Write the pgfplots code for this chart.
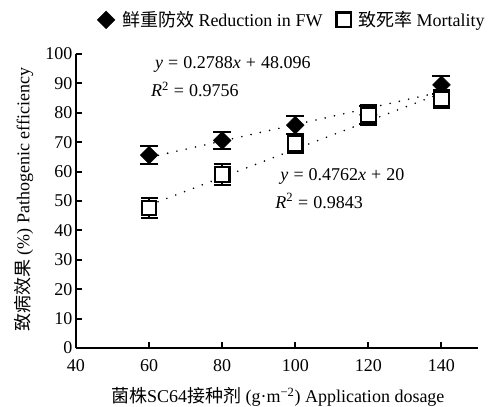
\documentclass[border=0pt]{standalone}
\usepackage{fontspec}
\setmainfont{Liberation Serif}
\newfontfamily\cjk{Noto Sans CJK SC}
\usepackage{pgfplots}
\pgfplotsset{compat=1.18}
\pgfplotstableread{
x y e
60 65.6 3.0
80 70.6 3.0
100 75.8 3.0
120 79.3 3.0
140 89.5 3.0
}\fwdata
\pgfplotstableread{
x y e
60 47.6 3.5
80 59.0 3.5
100 69.5 3.2
120 79.3 3.5
140 84.7 3.2
}\mortdata
\newcommand{\eqsp}{\kern0.28em}
\begin{document}
\begin{tikzpicture}
\begin{axis}[
  scale only axis, width=402bp, height=294bp,
  xmin=40, xmax=150, ymin=0, ymax=100,
  axis lines=left, axis line style={-, line width=2.2bp},
  xtick={40,60,...,140}, ytick={0,10,...,100},
  tick align=inside, major tick length=6bp,
  tick style={line width=2bp, black},
  /pgf/number format/assume math mode=true,
  tick label style={font=\fontsize{18bp}{20bp}\selectfont},
  xticklabel style={yshift=-8bp},
  label style={font=\fontsize{18bp}{21bp}\selectfont},
  xlabel={{\cjk 菌株}SC64{\cjk 接种剂} (g·m\textsuperscript{−2}) Application dosage},
  ylabel={{\cjk 致病效果} (\%) Pathogenic efficiency},
  xlabel style={at={(axis description cs:0.502,-0.167)}, anchor=center},
  ylabel style={at={(axis description cs:-0.130,0.505)}, anchor=center},
  legend style={at={(0.537,1.116)}, anchor=center, draw=none, fill=none,
    legend columns=2, font=\fontsize{18bp}{21bp}\selectfont,
    /tikz/every even column/.append style={column sep=12bp}},
  clip=false,
]
\addplot[only marks, black, mark=square*, mark size=6.3bp,
  mark options={rotate=45, fill=black, draw=black},
  error bars/.cd, y dir=both, y explicit,
  error bar style={line width=2bp, black},
  error mark options={rotate=90, mark size=9bp, line width=2bp, black}]
  table[x=x, y=y, y error=e] {\fwdata};
\addlegendentry{\hspace{5bp}{\cjk 鲜重防效} Reduction in FW}
\addplot[only marks, black, mark=square*, mark size=7.3bp,
  mark options={fill=white, draw=black, line width=2.2bp},
  error bars/.cd, y dir=both, y explicit,
  error bar style={line width=2bp, black},
  error mark options={rotate=90, mark size=8.5bp, line width=2bp, black}]
  table[x=x, y=y, y error=e] {\mortdata};
\addlegendentry{\hspace{5bp}{\cjk 致死率} Mortality}
\addplot[forget plot, black, line width=1.8bp, line cap=round,
  dash pattern=on 0bp off 9.5bp] coordinates {(60,64.82) (140,87.13)};
\addplot[forget plot, black, line width=1.8bp, line cap=round,
  dash pattern=on 0bp off 9.5bp] coordinates {(60,48.57) (140,86.67)};
\node[anchor=west, inner sep=0pt, font=\fontsize{18bp}{21bp}\selectfont]
  at (axis cs:61.6,96.4) {\textit{y}\eqsp=\eqsp0.2788\textit{x}\eqsp+\eqsp48.096};
\node[anchor=west, inner sep=0pt, font=\fontsize{18bp}{21bp}\selectfont]
  at (axis cs:60.5,88.0) {\textit{R}\textsuperscript{2}\eqsp=\eqsp0.9756};
\node[anchor=west, inner sep=0pt, font=\fontsize{18bp}{21bp}\selectfont]
  at (axis cs:95.9,58.2) {\textit{y}\eqsp=\eqsp0.4762\textit{x}\eqsp+\eqsp20};
\node[anchor=west, inner sep=0pt, font=\fontsize{18bp}{21bp}\selectfont]
  at (axis cs:94.5,50.0) {\textit{R}\textsuperscript{2}\eqsp=\eqsp0.9843};
\end{axis}
\pgfresetboundingbox
\path (-76bp,-59bp) rectangle (415bp,348bp);
\end{tikzpicture}
\end{document}
